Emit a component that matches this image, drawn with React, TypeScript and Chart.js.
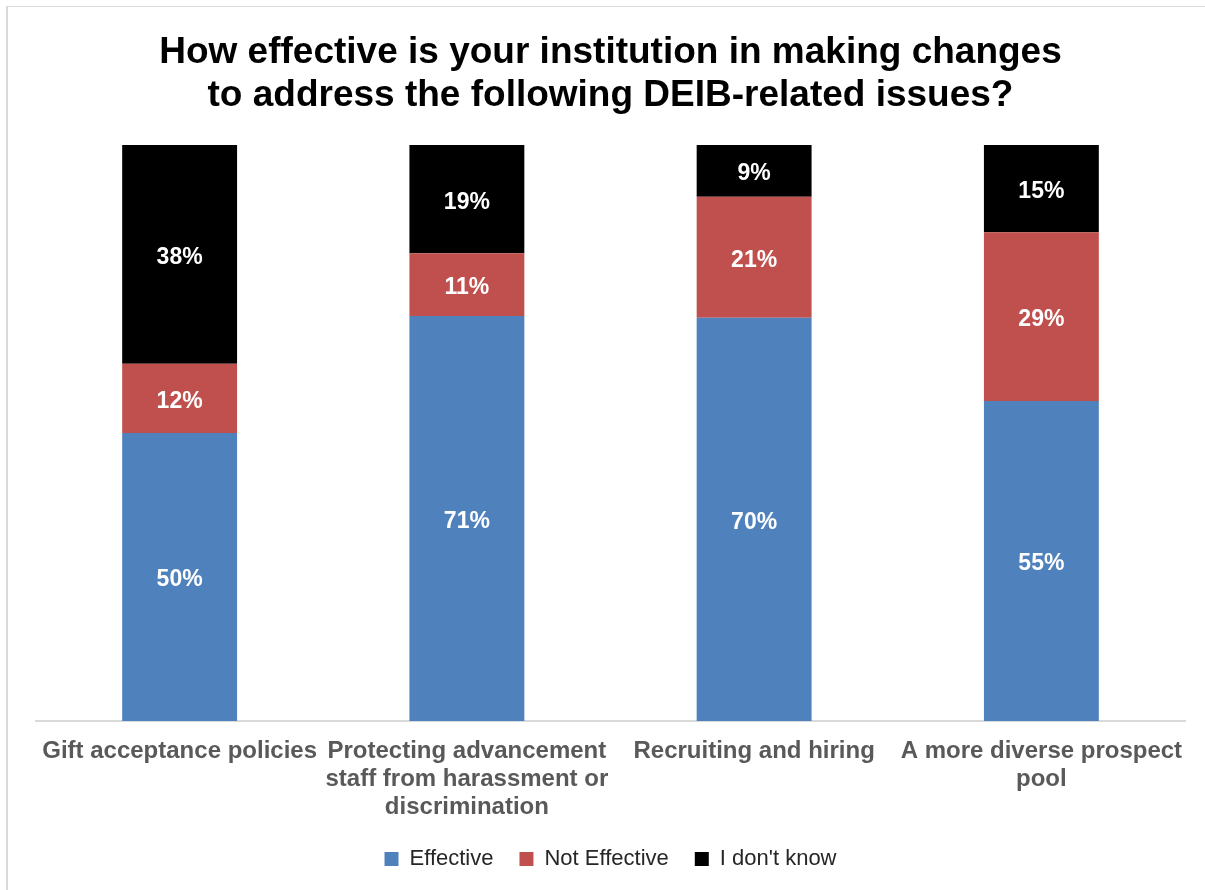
import React, { useEffect, useRef } from "react";
import { Chart, registerables } from "chart.js";

Chart.register(...registerables);

const titleLines = [
  "How effective is your institution in making changes",
  "to address the following DEIB-related issues?",
];
const categories = [
  ["Gift acceptance policies"],
  ["Protecting advancement", "staff from harassment or", "discrimination"],
  ["Recruiting and hiring"],
  ["A more diverse prospect", "pool"],
];
const seriesNames = ["Effective", "Not Effective", "I don't know"];
const effective = [50, 71, 70, 55];
const notEffective = [12, 11, 21, 29];
const dontKnow = [38, 19, 9, 15];
const seriesColors = ["#4F81BD", "#C0504D", "#000000"];

const FONT = "'Liberation Sans', Arial, sans-serif";

const valueLabels = {
  id: "valueLabels",
  afterDatasetsDraw(chart: any) {
    const ctx = chart.ctx;
    ctx.save();
    ctx.fillStyle = "#FFFFFF";
    ctx.font = `bold 23px ${FONT}`;
    ctx.textAlign = "center";
    ctx.textBaseline = "middle";
    chart.data.datasets.forEach((ds: any, di: number) => {
      const meta = chart.getDatasetMeta(di);
      meta.data.forEach((el: any, i: number) => {
        const p = el.getProps(["x", "y", "base"], true);
        ctx.fillText(`${ds.rawValues[i]}%`, p.x, (p.y + p.base) / 2 + 3);
      });
    });
    ctx.restore();
  },
};

export default function App() {
  const ref = useRef<HTMLCanvasElement | null>(null);
  useEffect(() => {
    if (!ref.current) return;
    const raw = [effective, notEffective, dontKnow];
    const totals = effective.map((_, i) => effective[i] + notEffective[i] + dontKnow[i]);
    const chart = new Chart(ref.current, {
      type: "bar",
      data: {
        labels: categories as any,
        datasets: raw.map((arr, k) => ({
          label: seriesNames[k],
          data: arr.map((v, i) => (v / totals[i]) * 100),
          rawValues: arr,
          backgroundColor: seriesColors[k],
          borderWidth: 0,
          categoryPercentage: 1,
          barPercentage: 0.4,
        })) as any,
      },
      options: {
        animation: false,
        responsive: false,
        maintainAspectRatio: false,
        layout: { padding: { left: 36, right: 20, top: 0, bottom: 10 } },
        plugins: {
          title: {
            display: true,
            text: titleLines,
            color: "#000000",
            font: { family: FONT, size: 37, weight: "bold", lineHeight: 1.162 },
            padding: { top: 31, bottom: 28 },
          },
          legend: {
            position: "bottom",
            labels: {
              boxWidth: 14,
              boxHeight: 14,
              padding: 26,
              color: "#262626",
              font: { family: FONT, size: 22 },
            },
          },
          tooltip: { enabled: false },
        },
        scales: {
          x: {
            stacked: true,
            grid: { display: false },
            border: { display: true, color: "#D9D9D9", width: 2 },
            ticks: {
              color: "#595959",
              font: { family: FONT, size: 24, weight: "bold", lineHeight: 1.15 },
              maxRotation: 0,
              autoSkip: false,
              padding: 9,
            },
            afterFit: (scale: any) => {
              scale.height = 101;
            },
          },
          y: {
            stacked: true,
            display: false,
            min: 0,
            max: 100,
          },
        },
      },
      plugins: [valueLabels],
    });
    return () => chart.destroy();
  }, []);

  return (
    <div style={{ position: "absolute", left: 0, top: 0, width: 1205, height: 890, background: "#fff" }}>
      <div
        style={{
          position: "absolute",
          left: 6,
          top: 6,
          width: 1300,
          height: 1000,
          borderLeft: "2px solid #D9D9D9",
          borderTop: "1px solid #D9D9D9",
        }}
      />
      <canvas ref={ref} width={1205} height={890} style={{ position: "absolute", left: 0, top: 0 }} />
    </div>
  );
}
